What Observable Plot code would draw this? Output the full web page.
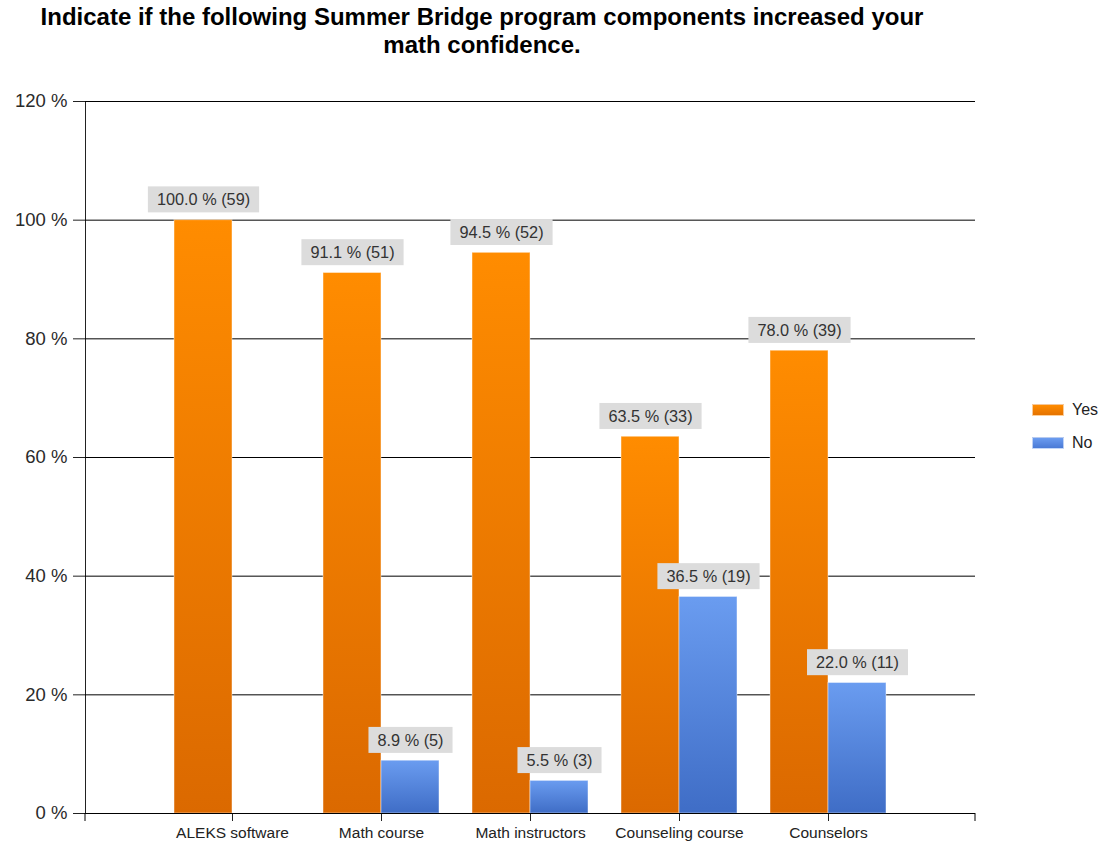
<!DOCTYPE html>
<html><head><meta charset="utf-8">
<script src="https://cdn.jsdelivr.net/npm/d3@7"></script>
<script src="https://cdn.jsdelivr.net/npm/@observablehq/plot@0.6"></script>
<style>
body{margin:0;background:#fff;font-family:"Liberation Sans",Arial,sans-serif;}
#wrap{position:relative;width:1101px;height:843px;overflow:hidden;}
#title{position:absolute;top:3px;left:0;width:964px;text-align:center;font-weight:bold;font-size:24px;line-height:28px;color:#000;}
#chart{position:absolute;top:70px;left:0;}
.lg{position:absolute;left:1032px;height:20px;font-size:16px;color:#222;line-height:20px;}
.lg span.sw{position:absolute;left:0;top:4px;width:32px;height:12px;box-sizing:border-box;border:1px solid rgba(255,255,255,0.6);}
.lg span.tx{position:absolute;left:40px;top:0;white-space:nowrap;}
#chart g[aria-label="y-axis tick label"]{font-size:18.5px;fill:#2a2a2a;}
#chart g[aria-label="x-axis tick label"]{font-size:15.5px;fill:#222;}
#chart g[aria-label="text"]{font-size:16.3px;}
</style></head><body>
<div id="wrap">
<div id="title">Indicate if the following Summer Bridge program components increased your<br>math confidence.</div>
<div id="chart"></div>
<div class="lg" style="top:400px"><span class="sw" style="background:linear-gradient(#FF8C00,#E57300)"></span><span class="tx">Yes</span></div>
<div class="lg" style="top:433px"><span class="sw" style="background:linear-gradient(#6B9CF0,#4A7AD6)"></span><span class="tx">No</span></div>
</div>
<script>
const categories = ["ALEKS software", "Math course", "Math instructors", "Counseling course", "Counselors"];
const yesPct = [100.0, 91.1, 94.5, 63.5, 78.0];
const yesCount = [59, 51, 52, 33, 39];
const noPct = [null, 8.9, 5.5, 36.5, 22.0];
const noCount = [null, 5, 3, 19, 11];
const yTicks = [0, 20, 40, 60, 80, 100, 120];

const yesData = categories.map((c, i) => ({category: c, answer: "Yes", pct: yesPct[i], count: yesCount[i]}));
const noData = categories.map((c, i) => ({category: c, answer: "No", pct: noPct[i], count: noCount[i]})).filter(d => d.pct != null);
const fmt = d => `${d.pct.toFixed(1)} % (${d.count})`;

const plot = Plot.plot({
  width: 1101,
  height: 773,
  marginTop: 31,
  marginBottom: 30,
  marginLeft: 85,
  marginRight: 126,
  style: {fontFamily: "'Liberation Sans', Arial, sans-serif", fontSize: "16px", color: "#222", background: "#fff"},
  x: {domain: categories, paddingInner: 0.609, paddingOuter: 0.79, tickSize: 8, tickPadding: 5, label: null},
  y: {domain: [0, 120], ticks: 6, tickFormat: d => d + " %", tickSize: 12, tickPadding: 6, line: true, label: null},
  marks: [
    Plot.ruleY(yTicks, {stroke: "#000", strokeWidth: 1}),
    Plot.barY(yesData, {x: "category", y: "pct", dx: -29, fill: "url(#gradYes)", stroke: "#fff", strokeOpacity: 0.45, strokeWidth: 1}),
    Plot.barY(noData, {x: "category", y: "pct", dx: 29, fill: "url(#gradNo)", stroke: "#fff", strokeOpacity: 0.45, strokeWidth: 1}),
    Plot.ruleY([0], {stroke: "#000", strokeWidth: 1}),
    Plot.text(yesData, {x: "category", y: "pct", dx: -29, dy: -20, text: fmt, fill: "#333"}),
    Plot.text(noData, {x: "category", y: "pct", dx: 29, dy: -20, text: fmt, fill: "#333"})
  ]
});
document.getElementById("chart").appendChild(plot);

const svg = d3.select(plot);
const defs = svg.insert("defs", ":first-child");
const g1 = defs.append("linearGradient").attr("id", "gradYes").attr("x1", 0).attr("y1", 0).attr("x2", 0).attr("y2", 1);
g1.append("stop").attr("offset", "0%").attr("stop-color", "#FF8C00");
g1.append("stop").attr("offset", "100%").attr("stop-color", "#DB6900");
const g2 = defs.append("linearGradient").attr("id", "gradNo").attr("x1", 0).attr("y1", 0).attr("x2", 0).attr("y2", 1);
g2.append("stop").attr("offset", "0%").attr("stop-color", "#6A9CF0");
g2.append("stop").attr("offset", "100%").attr("stop-color", "#3F6DC6");

// label backgrounds
svg.selectAll('g[aria-label="text"] text').each(function() {
  const b = this.getBBox();
  d3.select(this.parentNode).insert("rect", () => this)
    .attr("transform", this.getAttribute("transform"))
    .attr("x", b.x - 9).attr("y", b.y + b.height / 2 - 13)
    .attr("width", b.width + 18).attr("height", 26)
    .attr("fill", "#DCDCDC");
});

// edge ticks on x axis
const xs = plot.scale("x"), ys = plot.scale("y");
const y0 = ys.apply(0);
svg.append("g").selectAll("line").data(xs.range).join("line")
  .attr("x1", d => d).attr("x2", d => d).attr("y1", y0).attr("y2", y0 + 8)
  .attr("stroke", "#000");
</script>
</body></html>
